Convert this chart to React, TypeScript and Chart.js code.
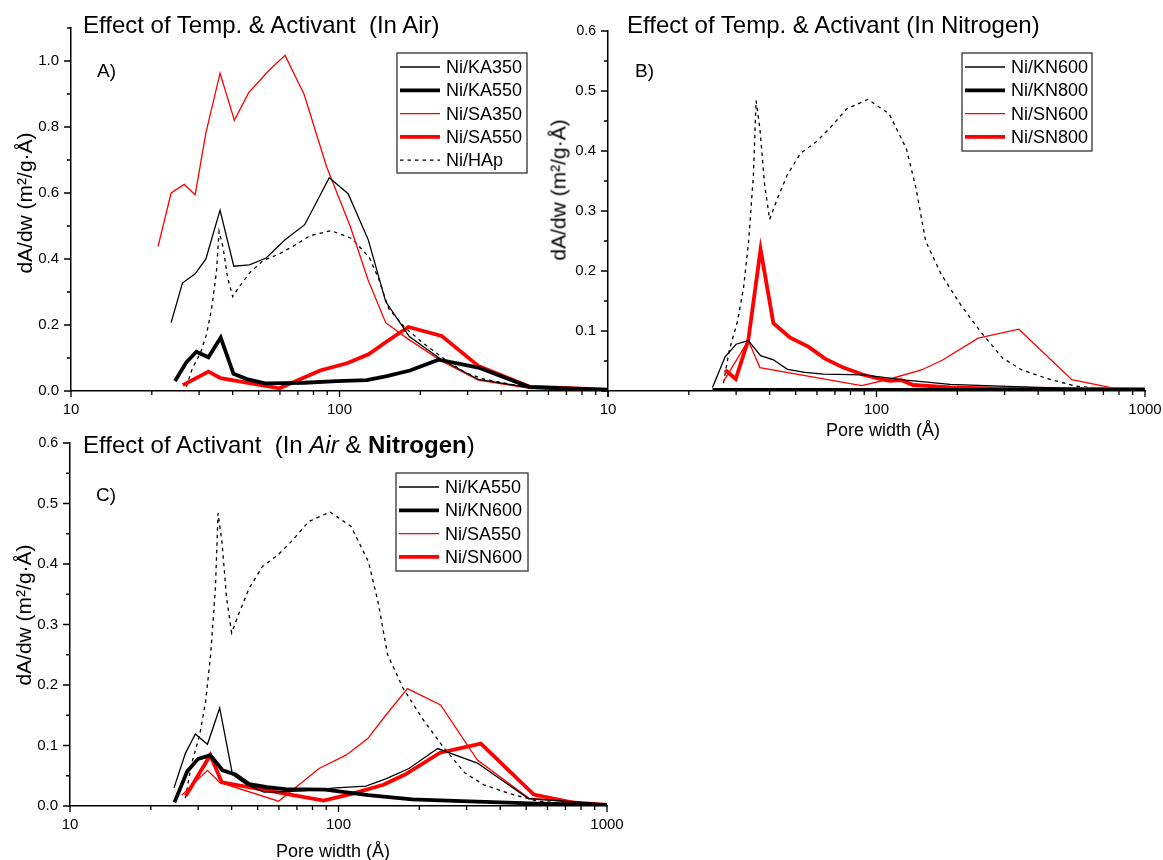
import React, { useEffect, useRef } from "react";
import { Chart, registerables } from "chart.js";

Chart.register(...registerables);

const FONT = '"Liberation Sans", Arial, Helvetica, sans-serif';

// ---------------- data (pore width in Å, dA/dw in m²/g·Å) ----------------
const pwKA350 = [23.6, 26.0, 29.0, 31.8, 35.9, 40.4, 46.2, 53.3, 62.7, 74.2, 91.6, 107.7, 128, 148.6, 182, 238.6, 329, 511, 1000];
const dadwKA350 = [0.207, 0.327, 0.355, 0.40, 0.548, 0.378, 0.382, 0.403, 0.458, 0.504, 0.646, 0.598, 0.458, 0.271, 0.165, 0.096, 0.035, 0.010, 0.003];

const pwKA550 = [24.4, 26.9, 29.3, 32.5, 36.1, 40.3, 45.2, 52.8, 62.7, 74, 97.6, 126.5, 150, 183, 234, 329, 511, 1000];
const dadwKA550 = [0.030, 0.087, 0.119, 0.102, 0.162, 0.052, 0.036, 0.023, 0.024, 0.025, 0.030, 0.033, 0.045, 0.062, 0.095, 0.071, 0.012, 0.003];

const pwSA350 = [21.1, 23.6, 26.4, 29.0, 31.8, 35.9, 40.6, 45.9, 54.7, 62.7, 73.8, 89.4, 109.6, 127.7, 148.6, 182, 238.6, 329, 511, 1000];
const dadwSA350 = [0.438, 0.600, 0.626, 0.595, 0.782, 0.963, 0.820, 0.904, 0.972, 1.017, 0.899, 0.681, 0.499, 0.337, 0.207, 0.155, 0.092, 0.033, 0.008, 0.003];

const pwSA550 = [26.1, 32.5, 36.1, 59.8, 84.7, 106.6, 128.3, 150, 180.6, 240, 329, 511, 1000];
const dadwSA550 = [0.018, 0.059, 0.039, 0.008, 0.062, 0.084, 0.111, 0.150, 0.194, 0.167, 0.076, 0.013, 0.004];

const pwHAp = [26.9, 28.3, 30.4, 32.0, 33.4, 34.8, 35.6, 36.8, 38.3, 40.0, 42.7, 46.5, 52.1, 59.5, 66.7, 77.4, 92.9, 111.4, 129.2, 140.3, 152.4, 173.9, 204.9, 245.9, 295, 347.8, 430.6, 552, 720, 1000];
const dadwHAp = [0.013, 0.068, 0.117, 0.173, 0.25, 0.36, 0.484, 0.437, 0.344, 0.286, 0.32, 0.36, 0.396, 0.415, 0.437, 0.47, 0.486, 0.462, 0.404, 0.338, 0.25, 0.195, 0.145, 0.097, 0.055, 0.035, 0.021, 0.008, 0.004, 0.002];

const pwKN600 = [24.5, 27.3, 30.0, 33.3, 37.0, 41.3, 46.6, 54.2, 63.5, 89.3, 129, 188, 288, 400, 552, 1000];
const dadwKN600 = [0.006, 0.057, 0.078, 0.084, 0.059, 0.052, 0.036, 0.031, 0.028, 0.027, 0.018, 0.011, 0.008, 0.006, 0.004, 0.002];

const pwKN800 = [24.5, 30.0, 40.0, 60.0, 100, 200, 400, 1000];
const dadwKN800 = [0.002, 0.002, 0.002, 0.002, 0.002, 0.002, 0.002, 0.002];

const pwSN600 = [27.0, 33.3, 36.8, 88.0, 112, 147, 177, 239, 339, 534, 820, 1000];
const dadwSN600 = [0.017, 0.084, 0.039, 0.009, 0.020, 0.035, 0.052, 0.088, 0.103, 0.019, 0.002, 0.002];

const pwSN800 = [27.3, 29.9, 33.3, 37.0, 41.3, 47.7, 55.7, 64.3, 75.2, 89.3, 103, 112, 124, 137, 188, 288, 1000];
const dadwSN800 = [0.035, 0.020, 0.085, 0.236, 0.113, 0.089, 0.074, 0.054, 0.039, 0.027, 0.020, 0.017, 0.018, 0.010, 0.006, 0.004, 0.003];

// ---------------- tick values ----------------
const xMajorTicks = [10, 100, 1000];
const xMinorTicks = [20, 30, 40, 50, 60, 70, 80, 90, 200, 300, 400, 500, 600, 700, 800, 900];
const yMajorA = [0, 0.2, 0.4, 0.6, 0.8, 1.0];
const yMinorA = [0.1, 0.3, 0.5, 0.7, 0.9, 1.1];
const yMajorBC = [0, 0.1, 0.2, 0.3, 0.4, 0.5, 0.6];
const yMinorBC = [0.05, 0.15, 0.25, 0.35, 0.45, 0.55];
const yLabelsA = [0, 0.2, 0.4, 0.6, 0.8, 1.0];
const yLabelsB = [0.1, 0.2, 0.3, 0.4, 0.5, 0.6];
const yLabelsC = [0, 0.1, 0.2, 0.3, 0.4, 0.5, 0.6];

const pts = (xs: number[], ys: number[]) => xs.map((x, i) => ({ x, y: ys[i] }));

const THIN = 1.3;
const THICK = 3.8;
const RED = "#ff0000";
const BLACK = "#000000";
const DASH = [3.5, 4];

type Series = { label: string; xs: number[]; ys: number[]; color: string; w: number; dash?: number[]; legend: boolean };
type PanelCfg = {
  id: string;
  left: number; top: number; width: number; height: number;
  area: { left: number; right: number; top: number; bottom: number };
  yMax: number; yMajor: number[]; yMinor: number[]; yLabels: number[]; xLabels: number[];
  series: Series[];
  legendBox: { x: number; y: number; w: number; h: number };
};

const hap = (legend: boolean): Series => ({ label: "Ni/HAp", xs: pwHAp, ys: dadwHAp, color: BLACK, w: THIN, dash: DASH, legend });

const panels: PanelCfg[] = [
  {
    id: "A", left: 0, top: 0, width: 620, height: 430,
    area: { left: 71, right: 608, top: 28, bottom: 391 },
    yMax: 1.1, yMajor: yMajorA, yMinor: yMinorA, yLabels: yLabelsA, xLabels: [10, 100],
    series: [
      { label: "Ni/KA350", xs: pwKA350, ys: dadwKA350, color: BLACK, w: THIN, legend: true },
      { label: "Ni/KA550", xs: pwKA550, ys: dadwKA550, color: BLACK, w: THICK, legend: true },
      { label: "Ni/SA350", xs: pwSA350, ys: dadwSA350, color: RED, w: THIN, legend: true },
      { label: "Ni/SA550", xs: pwSA550, ys: dadwSA550, color: RED, w: THICK, legend: true },
      hap(true),
    ],
    legendBox: { x: 397, y: 53, w: 130, h: 120 },
  },
  {
    id: "B", left: 520, top: 0, width: 643, height: 440,
    area: { left: 88, right: 625, top: 31, bottom: 391 },
    yMax: 0.6, yMajor: yMajorBC, yMinor: yMinorBC, yLabels: yLabelsB, xLabels: [10, 100, 1000],
    series: [
      { label: "Ni/KN600", xs: pwKN600, ys: dadwKN600, color: BLACK, w: THIN, legend: true },
      { label: "Ni/KN800", xs: pwKN800, ys: dadwKN800, color: BLACK, w: THICK, legend: true },
      { label: "Ni/SN600", xs: pwSN600, ys: dadwSN600, color: RED, w: THIN, legend: true },
      { label: "Ni/SN800", xs: pwSN800, ys: dadwSN800, color: RED, w: THICK, legend: true },
      hap(false),
    ],
    legendBox: { x: 442, y: 53, w: 130, h: 98 },
  },
  {
    id: "C", left: 0, top: 430, width: 640, height: 430,
    area: { left: 70, right: 607, top: 13, bottom: 376 },
    yMax: 0.6, yMajor: yMajorBC, yMinor: yMinorBC, yLabels: yLabelsC, xLabels: [10, 100, 1000],
    series: [
      { label: "Ni/KA550", xs: pwKA550, ys: dadwKA550, color: BLACK, w: THIN, legend: true },
      { label: "Ni/KN600", xs: pwKN600, ys: dadwKN600, color: BLACK, w: THICK, legend: true },
      { label: "Ni/SA550", xs: pwSA550, ys: dadwSA550, color: RED, w: THIN, legend: true },
      { label: "Ni/SN600", xs: pwSN600, ys: dadwSN600, color: RED, w: THICK, legend: true },
      hap(false),
    ],
    legendBox: { x: 396, y: 43, w: 132, h: 98 },
  },
];

const isIn = (arr: number[], v: number) => arr.some((m) => Math.abs(m - v) < 1e-6);

const axisPlugin = {
  id: "axisMarks",
  afterDraw(chart: any, _args: any, opts: any) {
    const { ctx, chartArea } = chart;
    const xs = chart.scales.x;
    const ys = chart.scales.y;
    ctx.save();
    ctx.strokeStyle = "#000";
    ctx.lineWidth = 1.3;
    ctx.setLineDash([]);
    ctx.beginPath();
    const b = chartArea.bottom;
    const l = chartArea.left;
    (opts.xMajor as number[]).forEach((v) => {
      const p = xs.getPixelForValue(v);
      ctx.moveTo(p, b); ctx.lineTo(p, b + 6);
    });
    (opts.xMinor as number[]).forEach((v) => {
      const p = xs.getPixelForValue(v);
      ctx.moveTo(p, b); ctx.lineTo(p, b + 4);
    });
    (opts.yMajor as number[]).forEach((v) => {
      const p = ys.getPixelForValue(v);
      ctx.moveTo(l, p); ctx.lineTo(l - 7, p);
    });
    (opts.yMinor as number[]).forEach((v) => {
      const p = ys.getPixelForValue(v);
      ctx.moveTo(l, p); ctx.lineTo(l - 4, p);
    });
    ctx.stroke();

    // legend box
    const lg = opts.legendBox;
    ctx.fillStyle = "#fff";
    ctx.fillRect(lg.x, lg.y, lg.w, lg.h);
    ctx.strokeStyle = "#333";
    ctx.lineWidth = 1.3;
    ctx.strokeRect(lg.x, lg.y, lg.w, lg.h);
    const items = chart.data.datasets.filter((d: any) => d.inLegend);
    items.forEach((d: any, i: number) => {
      const cy = lg.y + 14 + i * 23.3;
      ctx.beginPath();
      ctx.setLineDash(d.borderDash || []);
      ctx.strokeStyle = d.borderColor;
      ctx.lineWidth = d.borderWidth;
      ctx.moveTo(lg.x + 3, cy);
      ctx.lineTo(lg.x + 43, cy);
      ctx.stroke();
      ctx.setLineDash([]);
      ctx.fillStyle = "#000";
      ctx.font = `18px ${FONT}`;
      ctx.textBaseline = "middle";
      ctx.textAlign = "left";
      ctx.fillText(d.label, lg.x + 49, cy + 1);
    });
    ctx.restore();
  },
};

function Panel({ cfg }: { cfg: PanelCfg }) {
  const ref = useRef<HTMLCanvasElement>(null);
  useEffect(() => {
    const X_H = 30;
    const chart = new Chart(ref.current as HTMLCanvasElement, {
      type: "line",
      data: {
        datasets: cfg.series.map((s) => ({
          label: s.label,
          data: pts(s.xs, s.ys),
          borderColor: s.color,
          backgroundColor: s.color,
          borderWidth: s.w,
          borderDash: s.dash || [],
          pointRadius: 0,
          tension: 0,
          fill: false,
          inLegend: s.legend,
        })) as any,
      },
      options: {
        responsive: false,
        animation: false,
        devicePixelRatio: 1,
        layout: {
          padding: {
            left: 0,
            top: cfg.area.top,
            right: cfg.width - cfg.area.right,
            bottom: cfg.height - cfg.area.bottom - X_H,
          },
        },
        plugins: {
          legend: { display: false },
          tooltip: { enabled: false },
          axisMarks: {
            xMajor: xMajorTicks,
            xMinor: xMinorTicks,
            yMajor: cfg.yMajor,
            yMinor: cfg.yMinor,
            legendBox: cfg.legendBox,
          },
        } as any,
        scales: {
          x: {
            type: "logarithmic",
            min: 10,
            max: 1000,
            grid: { display: false, drawTicks: false, tickLength: 0 },
            border: { display: true, color: "#000", width: 1.5 },
            ticks: {
              autoSkip: false,
              maxRotation: 0,
              minRotation: 0,
              padding: 10,
              color: "#000",
              font: { family: FONT, size: 15 },
              callback: (v: any) => (isIn(cfg.xLabels, Number(v)) ? String(Math.round(Number(v))) : ""),
            },
            afterFit: (s: any) => {
              s.height = X_H;
              s.paddingLeft = 0;
              s.paddingRight = 0;
            },
          },
          y: {
            type: "linear",
            min: 0,
            max: cfg.yMax,
            grid: { display: false, drawTicks: false, tickLength: 0 },
            border: { display: true, color: "#000", width: 1.5 },
            ticks: {
              stepSize: 0.1,
              autoSkip: false,
              padding: 12,
              color: "#000",
              font: (c: any) => ({
                family: FONT,
                size: cfg.yMax < 1 && c.tick && c.tick.value > 0.55 ? 14 : 15,
              }),
              callback: (v: any) => (isIn(cfg.yLabels, Number(v)) ? Number(v).toFixed(1) : ""),
            },
            afterFit: (s: any) => {
              s.width = cfg.area.left;
              s.paddingTop = 0;
              s.paddingBottom = 0;
            },
          },
        } as any,
      },
      plugins: [axisPlugin as any],
    });
    return () => chart.destroy();
  }, [cfg]);
  return (
    <canvas
      ref={ref}
      width={cfg.width}
      height={cfg.height}
      style={{ position: "absolute", left: cfg.left, top: cfg.top, width: cfg.width, height: cfg.height }}
    />
  );
}

const txt = (extra: React.CSSProperties): React.CSSProperties => ({
  position: "absolute",
  fontFamily: FONT,
  color: "#000",
  whiteSpace: "nowrap",
  ...extra,
});

const yTitle = "dA/dw (m\u00B2/g\u00B7\u00C5)";
const xTitle = "Pore width (\u00C5)";

export default function App() {
  return (
    <div style={{ position: "absolute", left: 0, top: 0, width: 1163, height: 860, background: "#fff", overflow: "hidden" }}>
      {panels.map((p) => (
        <Panel key={p.id} cfg={p} />
      ))}
      {/* panel titles */}
      <div style={txt({ left: 83, top: 13, fontSize: 24, lineHeight: "24px" })}>Effect of Temp. &amp; Activant&nbsp; (In Air)</div>
      <div style={txt({ left: 627, top: 13, fontSize: 24, lineHeight: "24px" })}>Effect of Temp. &amp; Activant (In Nitrogen)</div>
      <div style={txt({ left: 83, top: 433, fontSize: 24, lineHeight: "24px" })}>
        Effect of Activant&nbsp; (In <i>Air</i> &amp; <b>Nitrogen</b>)
      </div>
      {/* panel letters */}
      <div style={txt({ left: 97, top: 61, fontSize: 19, lineHeight: "19px" })}>A)</div>
      <div style={txt({ left: 635, top: 61, fontSize: 19, lineHeight: "19px" })}>B)</div>
      <div style={txt({ left: 96, top: 485, fontSize: 19, lineHeight: "19px" })}>C)</div>
      {/* y axis titles */}
      {[{ x: 24, y: 203 }, { x: 558, y: 190 }, { x: 23, y: 615 }].map((c, i) => (
        <div
          key={"yt" + i}
          style={txt({
            left: c.x,
            top: c.y,
            fontSize: 21,
            lineHeight: "21px",
            transform: "translate(-50%, -50%) rotate(-90deg)",
          })}
        >
          {yTitle}
        </div>
      ))}
      {/* x axis titles */}
      {[{ x: 883, y: 430 }, { x: 333, y: 851 }].map((c, i) => (
        <div
          key={"xt" + i}
          style={txt({ left: c.x, top: c.y, fontSize: 18, lineHeight: "18px", transform: "translate(-50%, -50%)" })}
        >
          {xTitle}
        </div>
      ))}
    </div>
  );
}
